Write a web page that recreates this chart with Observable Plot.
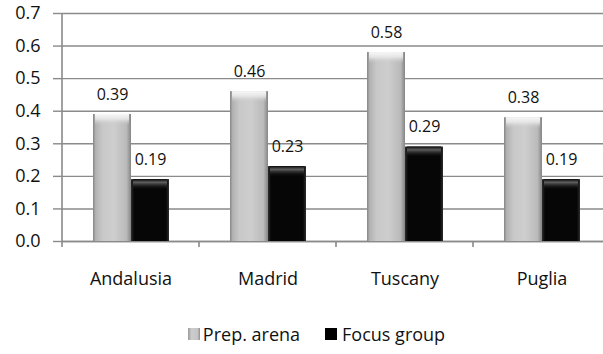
<!DOCTYPE html>
<html>
<head>
<meta charset="utf-8">
<script src="https://cdn.jsdelivr.net/npm/d3@7"></script>
<script src="https://cdn.jsdelivr.net/npm/@observablehq/plot@0.6"></script>
<style>
  body { margin: 0; background: #fff; font-family: "Open Sans", sans-serif; }
  #chart svg { display: block; font-family: "Open Sans", sans-serif; }
  #legend { display: flex; justify-content: center; align-items: center; height: 28px;
            padding-left: 30px; font-size: 18px; color: #111; }
  .key { display: inline-block; width: 12px; height: 12px; margin-right: 3px; }
  .key.light { background: linear-gradient(to right, #9a9a9a, #cdcdcd 30%, #c4c4c4 80%, #8e8e8e); }
  .key.dark { background: #000; margin-left: 25px; margin-right: 5px; }
</style>
</head>
<body>
<div id="chart"></div>
<div id="legend"></div>
<script>
// Regions and the two measured series
const regions = ["Andalusia", "Madrid", "Tuscany", "Puglia"];
const seriesNames = ["Prep. arena", "Focus group"];
const prepArena = [0.39, 0.46, 0.58, 0.38];
const focusGroup = [0.19, 0.23, 0.29, 0.19];
const yTicks = [0, 0.1, 0.2, 0.3, 0.4, 0.5, 0.6, 0.7];

const rows = regions.flatMap((region, i) => [
  {region, series: seriesNames[0], value: prepArena[i]},
  {region, series: seriesNames[1], value: focusGroup[i]}
]);
const prepRows = rows.filter(d => d.series === seriesNames[0]);
const focusRows = rows.filter(d => d.series === seriesNames[1]);

const axisGray = "#8a8a8a";
const textColor = "#111";

const plot = Plot.plot({
  width: 603,
  height: 320,
  marginLeft: 62,
  marginRight: -7,
  marginTop: 13,
  marginBottom: 79,
  fx: {domain: regions, padding: 0, label: null},
  x: {domain: seriesNames, paddingInner: 0, paddingOuter: 0.78, axis: null},
  y: {domain: [0, 0.7], axis: null},
  marks: [
    Plot.gridY(yTicks, {stroke: axisGray, strokeOpacity: 1, strokeWidth: 1.4}),
    Plot.ruleY([0], {stroke: axisGray, strokeWidth: 1.6}),
    Plot.axisY(yTicks, {
      tickSize: 9, tickPadding: 13, tickFormat: d3.format(".1f"),
      fontSize: 18, stroke: axisGray, strokeWidth: 1.4, fill: textColor, label: null
    }),
    Plot.axisFx({anchor: "bottom", tickSize: 0, tickPadding: 31, fontSize: 18, fill: textColor, label: null}),
    // bar bodies
    Plot.barY(prepRows, {fx: "region", x: "series", y: "value", fill: "url(#bar-light)"}),
    Plot.barY(focusRows, {fx: "region", x: "series", y: "value", fill: "url(#bar-dark)"}),
    // bevelled caps on the bar tops
    Plot.barY(prepRows, {fx: "region", x: "series", y1: "value", y2: "value", insetBottom: -11, insetLeft: 2, insetRight: 2, fill: "url(#cap-light)"}),
    Plot.barY(focusRows, {fx: "region", x: "series", y1: "value", y2: "value", insetBottom: -11, insetLeft: 2, insetRight: 2, fill: "url(#cap-dark)"}),
    // value labels
    Plot.text(rows, {fx: "region", x: "series", y: "value", text: d => d.value.toFixed(2), dy: -20, fontSize: 16, fill: textColor})
  ]
});

// gradients used by the bars
const defs = d3.select(plot).insert("defs", ":first-child");
function gradient(id, vertical, stops) {
  const g = defs.append("linearGradient").attr("id", id)
    .attr("x1", 0).attr("y1", 0).attr("x2", vertical ? 0 : 1).attr("y2", vertical ? 1 : 0);
  stops.forEach(([o, c, a]) => g.append("stop").attr("offset", o).attr("stop-color", c).attr("stop-opacity", a ?? 1));
}
gradient("bar-light", false, [[0, "#858585"], [0.07, "#b2b2b2"], [0.25, "#c8c8c8"], [0.55, "#cecece"], [0.88, "#bababa"], [1, "#858585"]]);
gradient("bar-dark", false, [[0, "#2e2e2e"], [0.08, "#060606"], [0.92, "#060606"], [1, "#2e2e2e"]]);
gradient("cap-light", true, [[0, "#f8f8f8"], [0.45, "#e8e8e8", 0.9], [1, "#cccccc", 0]]);
gradient("cap-dark", true, [[0, "#0a0a0a"], [0.3, "#5e5e5e"], [1, "#000000", 0]]);

// axis lines: vertical y axis and tick marks at the category boundaries
const fx = plot.scale("fx"), y = plot.scale("y");
const axes = d3.select(plot).append("g").attr("stroke", axisGray).attr("stroke-width", 1.6);
const left = fx.apply(regions[0]);
axes.append("line").attr("x1", left).attr("x2", left).attr("y1", y.apply(0.7)).attr("y2", y.apply(0) + 6);
regions.forEach(r => {
  const xb = fx.apply(r) + fx.bandwidth;
  axes.append("line").attr("x1", xb).attr("x2", xb).attr("y1", y.apply(0)).attr("y2", y.apply(0) + 6);
});

document.getElementById("chart").append(plot);

// legend
const legend = d3.select("#legend");
seriesNames.forEach((name, i) => {
  legend.append("span").attr("class", "key " + (i === 0 ? "light" : "dark"));
  legend.append("span").text(name);
});
</script>
</body>
</html>
